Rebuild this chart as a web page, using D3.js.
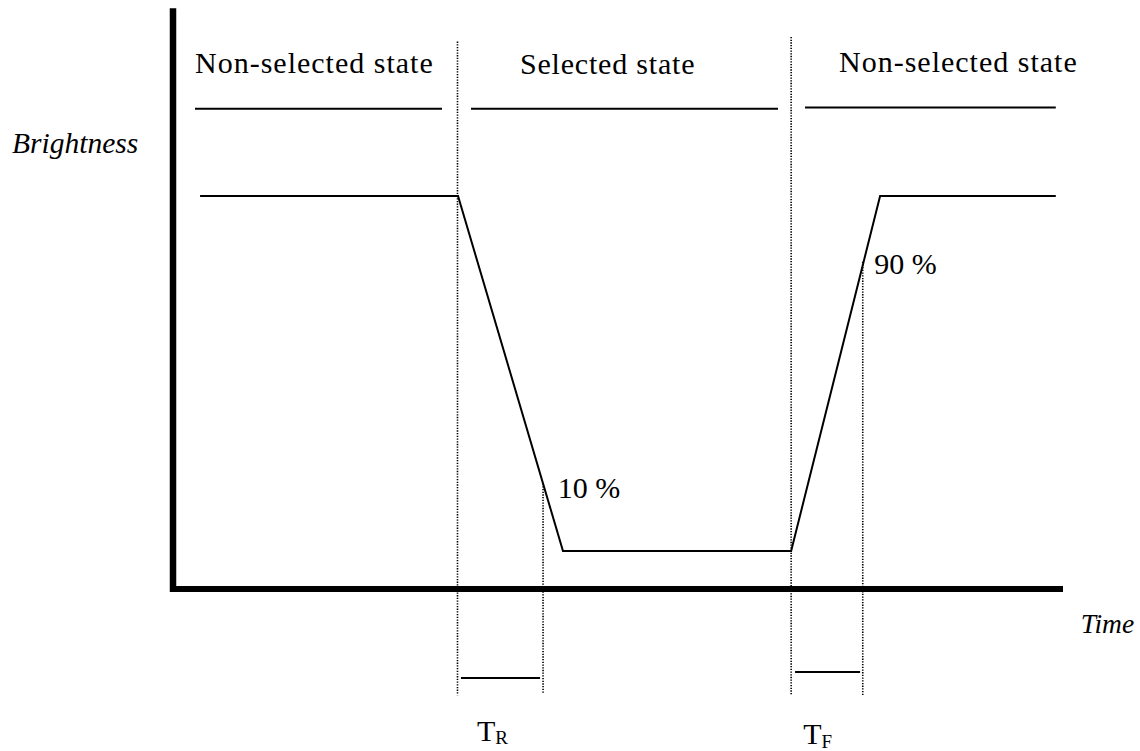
<!DOCTYPE html>
<html>
<head>
<meta charset="utf-8">
<script src="https://cdn.jsdelivr.net/npm/d3@7"></script>
<style>
  html, body { margin: 0; padding: 0; background: #fff; }
  svg { display: block; }
  text { font-family: "Liberation Serif", "Times New Roman", serif; fill: #000; }
</style>
</head>
<body>
<svg id="chart" width="1140" height="751"></svg>
<script>
// ---- data (time in arbitrary units 0..100, brightness in % with 0 = dark level, 100 = bright level)
const waveT = [3.1, 32.1, 43.9, 69.55, 79.55, 99.3];
const waveB = [100, 100, 0, 0, 100, 100];

const stateLabels = ["Non-selected state", "Selected state", "Non-selected state"];
const stateLabelT = [2.53, 39.07, 74.93];
const stateLabelB = [134.6, 134.3, 134.9];
const stateLineStart = [2.53, 33.56, 71.11];
const stateLineEnd = [30.3, 68.07, 99.3];
const stateLineB = [124.6, 124.6, 124.9];

const guideT = [32.04, 41.66, 69.55, 77.6];
const guideTop = [143.5, 19, 144.8, 81.5];
const guideBottom = [-40.6, -40.0, -40.6, -40.6];

const pctLabels = ["10 %", "90 %"];
const pctT = [43.3, 78.9];
const pctB = [14.9, 78.0];

const timingMain = ["T", "T"];
const timingSub = ["R", "F"];
const timingLineStart = [32.43, 69.99];
const timingLineEnd = [41.32, 77.3];
const timingLineB = [-35.8, -34.1];
const timingLabelT = [34.23, 70.9];
const timingLabelB = [-53.5, -54.4];

const axisLabelY = "Brightness";
const axisLabelX = "Time";
const yLabelPos = [-18.04, 112.1];
const xLabelPos = [102.1, -23.1];

const xDomain = [0, 100];
const yDomainFull = [-10.5, 152.1];

// ---- scales
const svg = d3.select("#chart");
const x = d3.scaleLinear().domain(xDomain).range([172.5, 1062]);
const y = d3.scaleLinear().domain([0, 100]).range([551, 196]);

// ---- axes (thick lines, no ticks)
const xAxis = d3.axisBottom(x).tickValues([]).tickSizeOuter(0);
const yAxisScale = d3.scaleLinear().domain(yDomainFull).range([y(yDomainFull[0]), y(yDomainFull[1])]);
const yAxis = d3.axisLeft(yAxisScale).tickValues([]).tickSizeOuter(0);

svg.append("g")
  .attr("transform", `translate(0,${y(yDomainFull[0])})`)
  .call(xAxis)
  .call(g => g.select(".domain").attr("stroke", "#000").attr("stroke-width", 6.5).attr("shape-rendering", "crispEdges"));

svg.append("g")
  .attr("transform", `translate(${x(0)},0)`)
  .call(yAxis)
  .call(g => g.select(".domain").attr("stroke", "#000").attr("stroke-width", 6.5).attr("stroke-linecap", "square"));

// ---- dotted guides
svg.append("g").selectAll("line").data(guideT).join("line")
  .attr("x1", d => x(d)).attr("x2", d => x(d))
  .attr("y1", (d, i) => y(guideTop[i])).attr("y2", (d, i) => y(guideBottom[i]))
  .attr("stroke", "#000").attr("stroke-width", 1.6).attr("stroke-dasharray", "1.3,1.4");

// ---- state bars and labels
svg.append("g").selectAll("line").data(stateLineStart).join("line")
  .attr("x1", d => x(d)).attr("x2", (d, i) => x(stateLineEnd[i]))
  .attr("y1", (d, i) => y(stateLineB[i])).attr("y2", (d, i) => y(stateLineB[i]))
  .attr("stroke", "#000").attr("stroke-width", 2);

svg.append("g").selectAll("text").data(stateLabels).join("text")
  .attr("x", (d, i) => x(stateLabelT[i])).attr("y", (d, i) => y(stateLabelB[i]))
  .attr("font-size", 30).attr("letter-spacing", (d, i) => i === 1 ? 0.8 : 1.0)
  .text(d => d);

// ---- waveform
const line = d3.line().x(d => x(d[0])).y(d => y(d[1]));
svg.append("path")
  .datum(waveT.map((t, i) => [t, waveB[i]]))
  .attr("d", line)
  .attr("fill", "none").attr("stroke", "#000").attr("stroke-width", 2).attr("stroke-linejoin", "miter");

// ---- percent labels
svg.append("g").selectAll("text").data(pctLabels).join("text")
  .attr("x", (d, i) => x(pctT[i])).attr("y", (d, i) => y(pctB[i]))
  .attr("font-size", 30).text(d => d);

// ---- timing bars and labels
svg.append("g").selectAll("line").data(timingLineStart).join("line")
  .attr("x1", d => x(d)).attr("x2", (d, i) => x(timingLineEnd[i]))
  .attr("y1", (d, i) => y(timingLineB[i])).attr("y2", (d, i) => y(timingLineB[i]))
  .attr("stroke", "#000").attr("stroke-width", 2);

const tl = svg.append("g").selectAll("text").data(timingMain).join("text")
  .attr("x", (d, i) => x(timingLabelT[i])).attr("y", (d, i) => y(timingLabelB[i]))
  .attr("font-size", 30);
tl.append("tspan").text(d => d);
tl.append("tspan").attr("font-size", 19).attr("dy", 3.5).text((d, i) => timingSub[i]);

// ---- axis titles
svg.append("text")
  .attr("x", x(yLabelPos[0])).attr("y", y(yLabelPos[1]))
  .attr("font-size", 29.5).attr("font-style", "italic").text(axisLabelY);
svg.append("text")
  .attr("x", x(xLabelPos[0])).attr("y", y(xLabelPos[1]))
  .attr("font-size", 27.5).attr("font-style", "italic").text(axisLabelX);
</script>
</body>
</html>
